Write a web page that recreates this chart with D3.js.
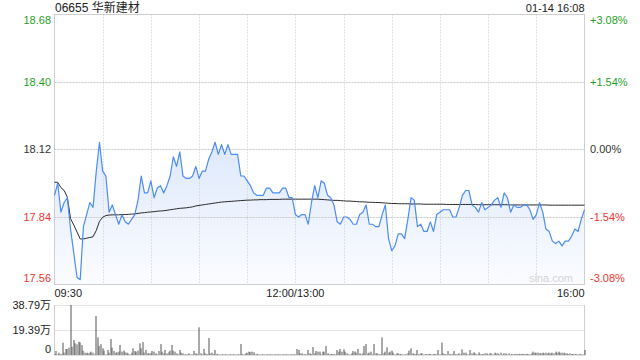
<!DOCTYPE html>
<html>
<head>
<meta charset="utf-8">
<style>
    body { margin: 0; background: #fff; }
    svg { display: block; font-family: "Liberation Sans", Arial, "Noto Sans CJK SC", sans-serif; }
</style>
</head>
<body>
<svg width="640" height="360"></svg>

<script src="https://d3js.org/d3.v7.min.js"></script>
<script>
    // values
    let title = "06655 华新建材";
    let stamp = "01-14 16:08";

    let priceTicks = [18.68, 18.40, 18.12, 17.84, 17.56];
    let pctTicks = ["+3.08%", "+1.54%", "0.00%", "-1.54%", "-3.08%"];
    let timeLabels = ["09:30", "12:00/13:00", "16:00"];
    let timeLabelMinutes = [0, 150, 330];
    let volTicks = [38.79, 19.39, 0];
    let volTickLabels = ["38.79万", "19.39万", "0"];

    // last price, one reading every 2 trading minutes from 09:30 (lunch skipped)
    let prices = [
        17.93, 17.98, 17.86, 17.90, 17.92, 17.79, 17.69, 17.59, 17.58, 17.80,
        17.85, 17.90, 17.88, 18.03, 18.15, 18.03, 18.01, 17.86, 17.89, 17.85,
        17.81, 17.85, 17.82, 17.81, 17.83, 17.85, 17.91, 18.01, 17.94, 17.94,
        17.99, 17.92, 17.96, 17.97, 17.94, 17.97, 18.01, 18.09, 18.05, 18.11,
        18.01, 18.00, 18.00, 18.01, 18.05, 18.00, 18.03, 18.03, 18.08, 18.11,
        18.15, 18.10, 18.14, 18.10, 18.14, 18.10, 18.10, 18.10, 18.01, 18.01,
        17.99, 17.97, 17.94, 17.93, 17.93, 17.93, 17.96, 17.96, 17.94, 17.94,
        17.94, 17.96, 17.96, 17.92, 17.92, 17.85, 17.84, 17.85, 17.85, 17.81,
        17.90, 17.97, 17.92, 17.99, 17.98, 17.93, 17.92, 17.89, 17.82, 17.81,
        17.84, 17.84, 17.83, 17.81, 17.81, 17.85, 17.86, 17.89, 17.81, 17.81,
        17.80, 17.80, 17.85, 17.89, 17.75, 17.70, 17.72, 17.77, 17.77, 17.75,
        17.83, 17.92, 17.91, 17.80, 17.81, 17.78, 17.78, 17.82, 17.78, 17.85,
        17.86, 17.87, 17.87, 17.87, 17.84, 17.84, 17.88, 17.93, 17.95, 17.95,
        17.89, 17.88, 17.86, 17.90, 17.87, 17.88, 17.89, 17.91, 17.92, 17.88,
        17.94, 17.92, 17.86, 17.89, 17.88, 17.88, 17.89, 17.89, 17.87, 17.83,
        17.85, 17.90, 17.86, 17.79, 17.78, 17.74, 17.73, 17.74, 17.72, 17.74,
        17.74, 17.76, 17.79, 17.78, 17.83, 17.87
    ];

    // average price line, same readings
    let avgPrices = [
        17.984, 17.984, 17.962, 17.950, 17.922, 17.833, 17.807, 17.778, 17.749, 17.749,
        17.752, 17.755, 17.758, 17.784, 17.822, 17.839, 17.846, 17.848, 17.849, 17.849,
        17.849, 17.850, 17.850, 17.851, 17.852, 17.853, 17.855, 17.857, 17.858, 17.860,
        17.861, 17.862, 17.864, 17.865, 17.866, 17.868, 17.870, 17.872, 17.874, 17.876,
        17.877, 17.878, 17.880, 17.882, 17.886, 17.888, 17.890, 17.892, 17.894, 17.896,
        17.898, 17.900, 17.902, 17.903, 17.904, 17.905, 17.906, 17.907, 17.908, 17.909,
        17.910, 17.910, 17.911, 17.911, 17.912, 17.912, 17.912, 17.913, 17.913, 17.913,
        17.913, 17.914, 17.914, 17.914, 17.914, 17.914, 17.914, 17.914, 17.914, 17.914,
        17.914, 17.914, 17.914, 17.913, 17.912, 17.911, 17.910, 17.909, 17.909, 17.908,
        17.907, 17.906, 17.906, 17.905, 17.904, 17.903, 17.903, 17.902, 17.901, 17.901,
        17.900, 17.900, 17.899, 17.898, 17.897, 17.896, 17.896, 17.895, 17.895, 17.895,
        17.895, 17.894, 17.894, 17.894, 17.894, 17.893, 17.893, 17.893, 17.893, 17.893,
        17.893, 17.893, 17.892, 17.892, 17.892, 17.892, 17.892, 17.892, 17.892, 17.892,
        17.892, 17.892, 17.891, 17.891, 17.891, 17.891, 17.891, 17.891, 17.891, 17.891,
        17.891, 17.891, 17.890, 17.890, 17.890, 17.890, 17.890, 17.890, 17.890, 17.890,
        17.890, 17.890, 17.890, 17.890, 17.889, 17.889, 17.889, 17.889, 17.889, 17.889,
        17.889, 17.889, 17.889, 17.889, 17.889, 17.889
    ];

    // volume per trading minute, in 万
    let volumes = [
        0.5, 3.1, 0.5, 1.8, 0.8, 9.6, 1.8, 4.7, 4.7, 5.7,
        38.79, 6.5, 11.6, 9.1, 8.3, 10.3, 9.8, 7.8, 3.4, 1.8,
        1.8, 1.3, 1.8, 2.6, 1.8, 0.5, 30.3, 13.7, 7.0, 8.3,
        5.2, 3.4, 0.5, 3.9, 1.8, 12.4, 5.7, 3.1, 1.8, 2.1,
        2.6, 7.8, 2.6, 3.4, 2.1, 1.8, 1.3, 0.5, 1.8, 5.2,
        3.1, 2.6, 3.4, 9.1, 5.2, 10.1, 1.8, 3.9, 1.3, 1.3,
        1.3, 3.1, 2.6, 1.3, 0.5, 3.1, 8.5, 2.6, 1.3, 3.9,
        1.3, 2.1, 3.4, 7.8, 3.4, 2.6, 1.3, 0.5, 3.9, 1.8,
        1.3, 0.5, 0.5, 0.5, 1.3, 0.5, 0.5, 3.1, 1.3, 0.8,
        21.5, 1.3, 0.5, 4.7, 1.3, 0.8, 13.2, 1.3, 1.8, 0.8,
        3.9, 0.8, 0.5, 0.5, 0.5, 0.5, 0.5, 0.5, 0.5, 0.5,
        0.5, 0.5, 0.5, 0.5, 0.5, 0.5, 8.5, 0.8, 0.5, 1.3,
        1.8, 2.6, 2.3, 2.6, 2.1, 0.5, 0.8, 0.5, 0.5, 0.5,
        0.5, 0.5, 0.5, 0.5, 0.5, 0.5, 0.5, 0.5, 0.5, 0.5,
        0.5, 0.5, 0.5, 0.5, 0.5, 0.5, 0.5, 0.5, 0.5, 0.5,
        0.5, 4.7, 3.9, 1.3, 1.3, 0.5, 0.8, 0.5, 3.9, 1.3,
        0.8, 6.2, 1.3, 3.1, 2.6, 2.6, 0.5, 2.6, 2.6, 7.0,
        1.3, 0.5, 0.8, 0.8, 0.8, 0.5, 3.9, 2.6, 4.7, 2.6,
        4.4, 2.6, 1.3, 0.5, 0.5, 1.3, 3.1, 2.6, 1.8, 4.7,
        1.3, 0.5, 1.3, 7.0, 8.5, 1.3, 1.8, 2.6, 0.5, 8.5,
        1.3, 1.3, 0.8, 0.5, 13.7, 1.3, 2.6, 6.0, 1.8, 2.6,
        3.4, 1.8, 0.5, 1.3, 1.3, 0.8, 0.8, 0.5, 0.5, 0.5,
        1.3, 3.4, 5.2, 1.3, 0.8, 0.8, 3.9, 0.8, 1.3, 1.3,
        0.5, 0.8, 0.5, 0.8, 0.8, 0.5, 0.8, 0.8, 0.5, 3.9,
        0.5, 9.6, 1.3, 0.8, 0.5, 3.1, 0.8, 0.5, 0.8, 3.1,
        0.8, 0.5, 1.3, 0.5, 4.4, 1.8, 1.8, 0.5, 0.5, 3.9,
        1.3, 2.1, 1.3, 0.5, 2.1, 0.8, 0.5, 0.8, 1.3, 1.3,
        0.5, 1.3, 1.3, 0.5, 1.8, 1.3, 1.3, 0.5, 1.8, 0.5,
        1.3, 1.3, 0.5, 1.3, 0.5, 0.8, 0.5, 0.8, 0.8, 0.8,
        0.8, 0.8, 0.8, 0.8, 0.8, 0.8, 0.5, 1.3, 2.6, 1.8,
        1.8, 1.8, 1.3, 1.3, 1.8, 1.3, 1.8, 1.3, 1.8, 1.3,
        1.8, 1.3, 2.6, 1.8, 2.6, 1.8, 1.8, 1.8, 1.3, 1.3,
        0.8, 1.3, 0.8, 0.8, 0.5, 0.8, 0.5, 0.8, 0.5, 0.5,
        3.9
    ];

    let svg = d3.select("svg");

    let green = "#1f9f1f";
    let red = "#f0352f";
    let dark = "#333";
    let tickColors = [green, green, dark, red, red];

    let plotLeft = 54.5, plotRight = 584.5;
    let plotTop = 14.5, plotBottom = 284.5;

    let x = d3.scaleLinear().domain([0, 330]).range([plotLeft, plotRight]);
    let y = d3.scaleLinear().domain([17.56, 18.68]).range([plotBottom, plotTop]);
    let yv = d3.scaleLinear().domain([0, 38.79]).range([355, 305]);

    let priceMinutes = d3.range(0, 331, 2);
    let volMinutes = d3.range(0, 331, 1);

    // header
    svg.append("text")
        .text(title)
        .attr("x", 55)
        .attr("y", 12)
        .style("font-size", "12px")
        .style("fill", "#222");

    svg.append("text")
        .text(stamp)
        .attr("x", plotRight)
        .attr("y", 12)
        .attr("text-anchor", "end")
        .style("font-size", "11px")
        .style("fill", "#222");

    // fill gradient under price line
    let grad = svg.append("defs")
        .append("linearGradient")
        .attr("id", "areaFill")
        .attr("gradientUnits", "userSpaceOnUse")
        .attr("x1", 0).attr("y1", y(18.20))
        .attr("x2", 0).attr("y2", plotBottom);
    grad.append("stop").attr("offset", "0%").attr("stop-color", "#dbe7fb");
    grad.append("stop").attr("offset", "100%").attr("stop-color", "#fbfcff");

    let area = d3.area()
        .x((d, i) => x(priceMinutes[i]))
        .y0(plotBottom)
        .y1(d => y(d));

    svg.append("path")
        .datum(prices)
        .attr("d", area)
        .style("fill", "url(#areaFill)");

    // grid
    svg.selectAll(".vgrid")
        .data(d3.range(30, 330, 30))
        .join("line")
        .attr("x1", d => Math.round(x(d)) + 0.5)
        .attr("x2", d => Math.round(x(d)) + 0.5)
        .attr("y1", plotTop)
        .attr("y2", plotBottom)
        .style("stroke", "#c8c8c8")
        .style("stroke-dasharray", "1,2");

    svg.selectAll(".hgrid")
        .data(priceTicks.slice(1, 4))
        .join("line")
        .attr("x1", plotLeft)
        .attr("x2", plotRight)
        .attr("y1", d => Math.round(y(d)) + 0.5)
        .attr("y2", d => Math.round(y(d)) + 0.5)
        .style("stroke", "#c8c8c8")
        .style("stroke-dasharray", "2,1");

    svg.append("rect")
        .attr("x", plotLeft)
        .attr("y", plotTop)
        .attr("width", plotRight - plotLeft)
        .attr("height", plotBottom - plotTop)
        .style("fill", "none")
        .style("stroke", "#cfcfcf");

    // watermark
    svg.append("text")
        .text("sina.com")
        .attr("x", 573)
        .attr("y", 282)
        .attr("text-anchor", "end")
        .style("font-size", "11px")
        .style("fill", "#d4d4d4");

    // lines
    let line = d3.line()
        .x((d, i) => x(priceMinutes[i]))
        .y(d => y(d));

    svg.append("path")
        .datum(avgPrices)
        .attr("d", line)
        .style("fill", "none")
        .style("stroke", "#2a2a2a")
        .style("stroke-width", 1);

    svg.append("path")
        .datum(prices)
        .attr("d", line)
        .style("fill", "none")
        .style("stroke", "#4a8cf5")
        .style("stroke-width", 1.2)
        .style("stroke-linejoin", "round");

    // price axis labels, the outer ones sit inside the frame
    svg.selectAll(".lbl-left")
        .data(priceTicks)
        .join("text")
        .text(d => d.toFixed(2))
        .attr("x", 51)
        .attr("y", (d, i) => y(d) + (i == 0 ? 6 : i == 4 ? -6 : 0))
        .attr("dy", "0.35em")
        .attr("text-anchor", "end")
        .style("font-size", "11px")
        .style("fill", (d, i) => tickColors[i]);

    svg.selectAll(".lbl-right")
        .data(pctTicks)
        .join("text")
        .text(d => d)
        .attr("x", 590)
        .attr("y", (d, i) => y(priceTicks[i]) + (i == 0 ? 6 : i == 4 ? -6 : 0))
        .attr("dy", "0.35em")
        .style("font-size", "11px")
        .style("fill", (d, i) => tickColors[i]);

    // time labels
    svg.selectAll(".lbl-time")
        .data(timeLabels)
        .join("text")
        .text(d => d)
        .attr("x", (d, i) => x(timeLabelMinutes[i]))
        .attr("y", 297)
        .attr("text-anchor", (d, i) => i == 0 ? "start" : i == 2 ? "end" : "middle")
        .style("font-size", "11px")
        .style("fill", "#222");

    // volume panel
    svg.selectAll(".vol-grid")
        .data(volTicks.slice(0, 2))
        .join("line")
        .attr("x1", plotLeft)
        .attr("x2", plotRight)
        .attr("y1", d => Math.round(yv(d)) + 0.5)
        .attr("y2", d => Math.round(yv(d)) + 0.5)
        .style("stroke", "#c8c8c8")
        .style("stroke-dasharray", "1,1");

    svg.selectAll(".vol-edge")
        .data([plotLeft, plotRight])
        .join("line")
        .attr("x1", d => d)
        .attr("x2", d => d)
        .attr("y1", yv(38.79))
        .attr("y2", yv(0) + 1)
        .style("stroke", "#cfcfcf");

    svg.append("line")
        .attr("x1", plotLeft)
        .attr("x2", plotRight)
        .attr("y1", yv(0) + 0.5)
        .attr("y2", yv(0) + 0.5)
        .style("stroke", "#e0e0e0");

    svg.selectAll(".vol-bar")
        .data(volumes)
        .join("rect")
        .attr("x", (d, i) => Math.round(x(volMinutes[i])) - 0.5)
        .attr("width", 1)
        .attr("y", d => yv(d))
        .attr("height", d => yv(0) - yv(d))
        .style("fill", "#555");

    svg.selectAll(".lbl-vol")
        .data(volTickLabels)
        .join("text")
        .text(d => d)
        .attr("x", 51)
        .attr("y", (d, i) => yv(volTicks[i]) + (i == 2 ? -6 : 0))
        .attr("dy", "0.35em")
        .attr("text-anchor", "end")
        .style("font-size", "11px")
        .style("fill", "#222");
</script>
</body>
</html>
